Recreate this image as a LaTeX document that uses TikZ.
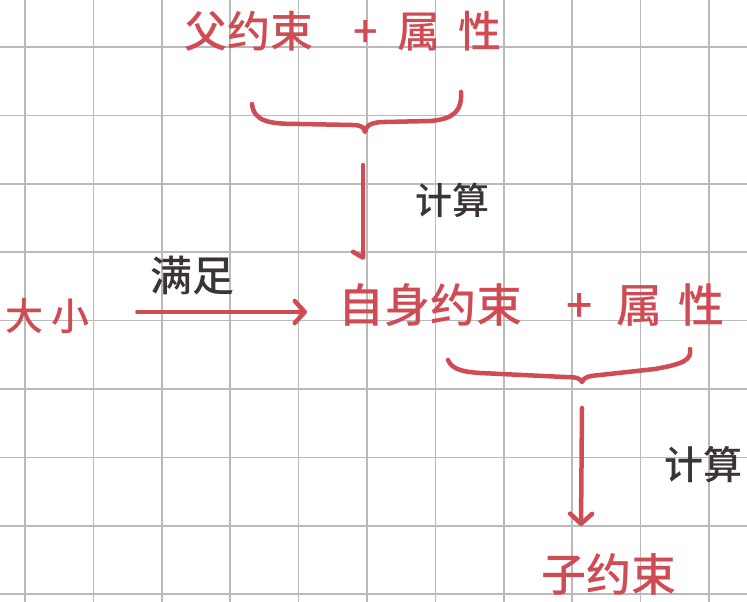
\documentclass[tikz,border=0pt]{standalone}
\usepackage{fontspec}
\newfontfamily\cjk{Noto Sans CJK SC}[UprightFont=* Medium]
\usetikzlibrary{arrows.meta,calc}
\definecolor{inkred}{RGB}{208,76,84}
\definecolor{inkdark}{RGB}{58,52,52}
\definecolor{gridgray}{RGB}{186,186,186}
\newcommand{\cjksize}[1]{\cjk\fontsize{#1}{#1}\selectfont}
\begin{document}
\begin{tikzpicture}[x=1pt,y=-1pt,
  lbl/.style={inner sep=0pt, anchor=west},
  redtxt/.style={lbl, text=inkred},
  darktxt/.style={lbl, text=inkdark},
  stroke/.style={draw=inkred, line width=4.5pt, line cap=round, line join=round},
  arr/.style={stroke, -{Straight Barb[round,length=10pt,width=22pt]}},
  halfarr/.style={stroke, -{Straight Barb[round,right,length=6pt,width=20pt]}},
  gridline/.style={draw=gridgray, line width=1.6pt}]
\useasboundingbox (0,0) rectangle (747,602);
\fill[white] (0,0) rectangle (747,602);
\foreach \k in {0,...,10} \draw[gridline] ({25+68.4*\k},0) -- ({25+68.4*\k},602);
\foreach \k in {0,...,8} \draw[gridline] (0,{47+68.4*\k}) -- (747,{47+68.4*\k});

\node[redtxt, font=\cjksize{43}] (top) at (184,31) {父约束\hspace{40pt}+\hspace{20pt}属\hspace{18pt}性};
\node[redtxt, font=\cjksize{46}] (self) at (338,305) {自身约束\hspace{44pt}+\hspace{24pt}属\hspace{16pt}性};
\node[redtxt, font=\cjksize{38}] (size) at (5,316) {大\hspace{8pt}小};
\node[darktxt, font=\cjksize{42}] (satisfy) at (150,276) {满足};
\node[darktxt, font=\cjksize{37}] (calc1) at (415,200) {计算};
\node[darktxt, font=\cjksize{39}] (calc2) at (664,465) {计算};
\node[redtxt, font=\cjksize{45}] (child) at (541,574) {子约束};

\draw[stroke] (252,104) .. controls (254,122) and (270,124) .. (300,124) -- (352,125)
  .. controls (361,125) and (364,127) .. (365,132) coordinate (b1tip)
  .. controls (366,125) and (372,122) .. (385,122) -- (430,121)
  .. controls (455,119) and (462,110) .. (461,92);
\draw[stroke] (448,360) .. controls (452,370) and (465,372) .. (480,373) -- (565,377)
  .. controls (576,377) and (580,378) .. (582,382) coordinate (b2tip)
  .. controls (584,377) and (588,376) .. (600,375) -- (655,369)
  .. controls (683,364) and (692,360) .. (690,349);

\draw[halfarr] ($(b1tip)+(-2,33)$) -- ($(b1tip)+(-2,128)$);
\draw[arr] ($(b2tip)+(0,26)$) -- ($(b2tip)+(-1,144)$);
\draw[arr] ($(size.east)+(48,-4)$) -- ($(self.west)+(-31,7)$);
\end{tikzpicture}
\end{document}
